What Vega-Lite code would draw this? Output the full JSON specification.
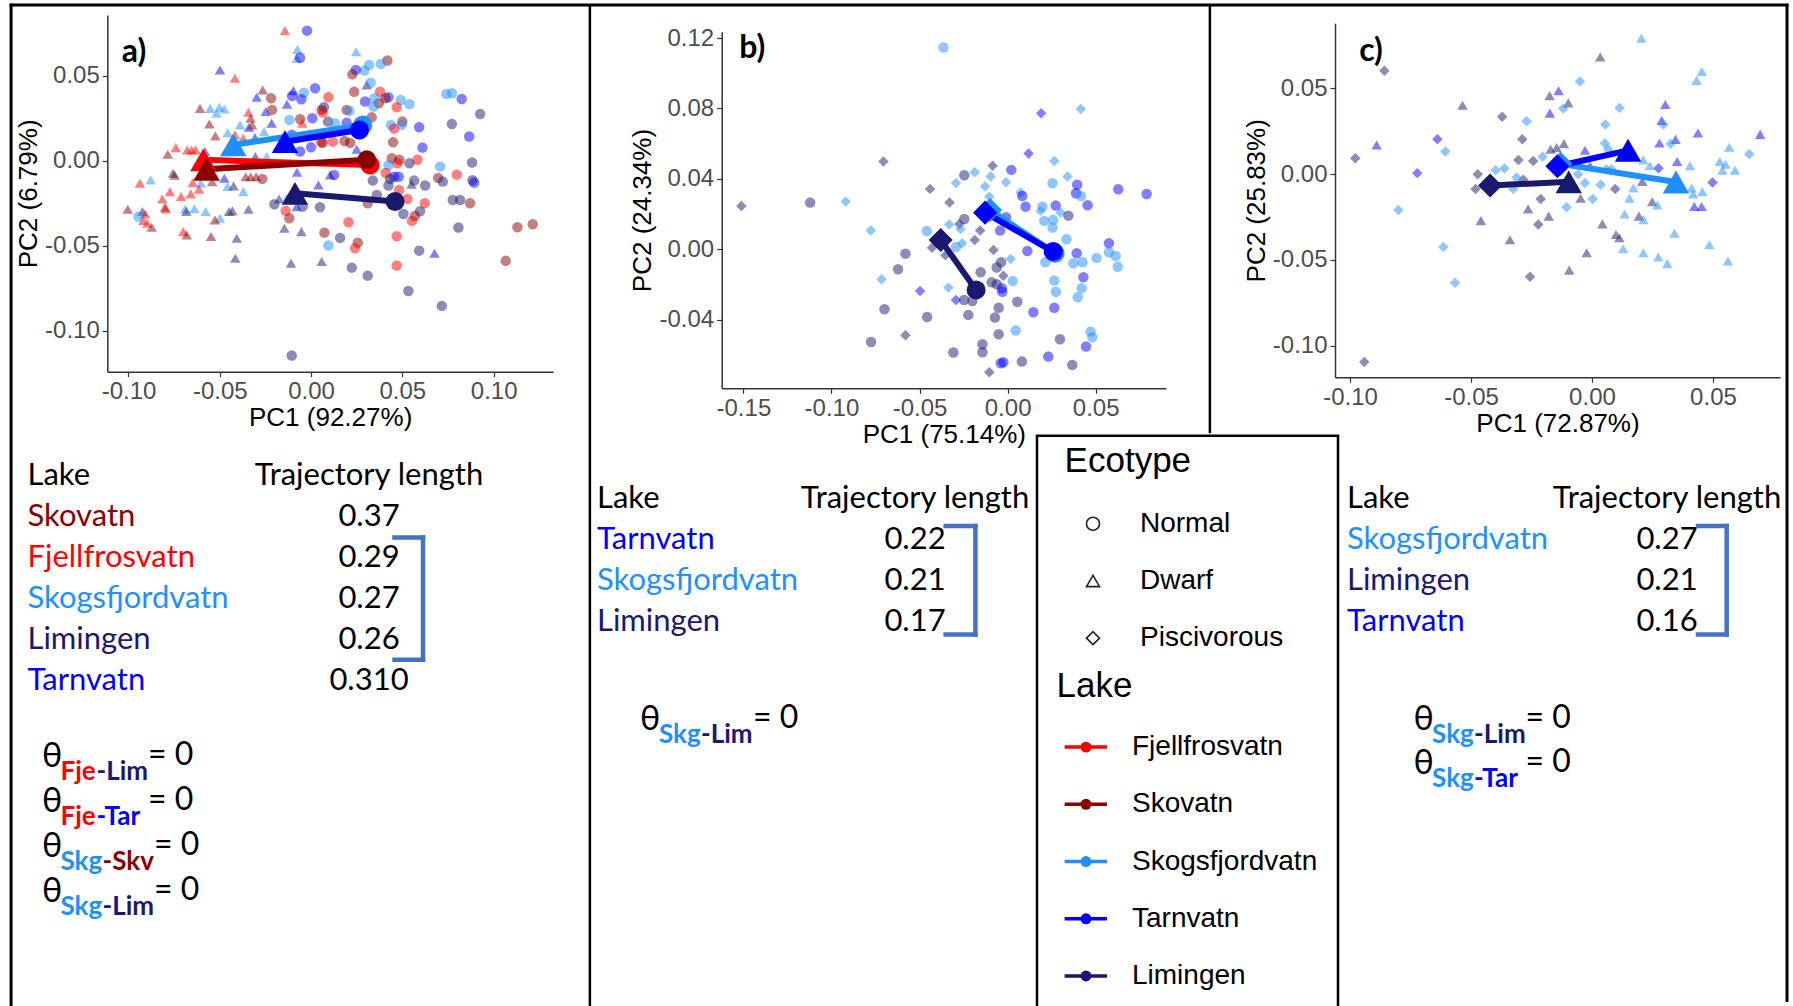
{
"$schema":"https://vega.github.io/schema/vega-lite/v6.json",
"width":1776,"height":1001,
"padding":{"left":11,"top":5,"right":6,"bottom":0},
"autosize":{"type":"none"},
"background":"white",
"config":{
 "view":{"stroke":null},
 "axis":{"grid":false,"domainColor":"#333333","domainWidth":1.5,"tickColor":"#333333","tickSize":5,"tickWidth":1.2,"labelFont":"Liberation Sans","labelFontSize":24,"labelColor":"#4D4D4D","labelPadding":3,"labelFlush":false,"labelOverlap":false,"titleFont":"Liberation Sans","titleFontSize":26,"titleFontWeight":"normal","titleColor":"#000000","titlePadding":3}
},
"datasets":{
"ptsA":[
{"lake":"Fje","eco":"D","pc1":-0.0143,"pc2":0.0765},{"lake":"Tar","eco":"N","pc1":-0.0022,"pc2":0.0765},{"lake":"Skg","eco":"D","pc1":-0.0075,"pc2":0.0655},{"lake":"Skg","eco":"D","pc1":-0.0079,"pc2":0.0602},{"lake":"Tar","eco":"N","pc1":-0.006,"pc2":0.0606},{"lake":"Tar","eco":"D","pc1":-0.0499,"pc2":0.0534},{"lake":"Fje","eco":"D","pc1":-0.0417,"pc2":0.0485},{"lake":"Skv","eco":"D","pc1":-0.0265,"pc2":0.0416},{"lake":"Tar","eco":"D","pc1":-0.0097,"pc2":0.0412},{"lake":"Skg","eco":"N","pc1":-0.0039,"pc2":0.04},{"lake":"Tar","eco":"N","pc1":0.0022,"pc2":0.0426},{"lake":"Tar","eco":"N","pc1":-0.0104,"pc2":0.0381},{"lake":"Tar","eco":"N","pc1":-0.0053,"pc2":0.0361},{"lake":"Tar","eco":"D","pc1":-0.0132,"pc2":0.0332},{"lake":"Skv","eco":"N","pc1":-0.0219,"pc2":0.0367},{"lake":"Tar","eco":"D","pc1":-0.0298,"pc2":0.0373},{"lake":"Skv","eco":"D","pc1":-0.0608,"pc2":0.0308},{"lake":"Skg","eco":"D","pc1":-0.0553,"pc2":0.0308},{"lake":"Skg","eco":"D","pc1":-0.0502,"pc2":0.0314},{"lake":"Skg","eco":"D","pc1":-0.0475,"pc2":0.0304},{"lake":"Skg","eco":"D","pc1":-0.0517,"pc2":0.0279},{"lake":"Fje","eco":"D","pc1":-0.0343,"pc2":0.0285},{"lake":"Skv","eco":"D","pc1":-0.0331,"pc2":0.025},{"lake":"Tar","eco":"D","pc1":-0.0248,"pc2":0.0289},{"lake":"Skv","eco":"N","pc1":-0.0214,"pc2":0.0299},{"lake":"Skv","eco":"D","pc1":-0.0557,"pc2":0.0216},{"lake":"Skg","eco":"D","pc1":-0.0389,"pc2":0.021},{"lake":"Tar","eco":"D","pc1":-0.034,"pc2":0.0197},{"lake":"Skv","eco":"D","pc1":-0.0323,"pc2":0.021},{"lake":"Tar","eco":"D","pc1":-0.0216,"pc2":0.022},{"lake":"Skg","eco":"N","pc1":-0.0119,"pc2":0.024},{"lake":"Skv","eco":"N","pc1":-0.006,"pc2":0.0244},{"lake":"Fje","eco":"D","pc1":-0.0048,"pc2":0.022},{"lake":"Tar","eco":"N","pc1":0.0007,"pc2":0.025},{"lake":"Skv","eco":"N","pc1":0.0058,"pc2":0.0299},{"lake":"Fje","eco":"N","pc1":0.0095,"pc2":0.0373},{"lake":"Skv","eco":"D","pc1":-0.0524,"pc2":0.0146},{"lake":"Skg","eco":"D","pc1":-0.0457,"pc2":0.0165},{"lake":"Fje","eco":"D","pc1":-0.0417,"pc2":0.0152},{"lake":"Fje","eco":"D","pc1":-0.0371,"pc2":0.0132},{"lake":"Tar","eco":"D","pc1":-0.0307,"pc2":0.0136},{"lake":"Skg","eco":"D","pc1":-0.0258,"pc2":0.0171},{"lake":"Tar","eco":"N","pc1":-0.0106,"pc2":0.0152},{"lake":"Skv","eco":"D","pc1":-0.0785,"pc2":0.0038},{"lake":"Fje","eco":"D","pc1":-0.0741,"pc2":0.0077},{"lake":"Fje","eco":"D","pc1":-0.0678,"pc2":0.0063},{"lake":"Fje","eco":"D","pc1":-0.0654,"pc2":0.0063},{"lake":"Fje","eco":"D","pc1":-0.0632,"pc2":0.0063},{"lake":"Tar","eco":"D","pc1":-0.0581,"pc2":0.0054},{"lake":"Lim","eco":"D","pc1":-0.0305,"pc2":0.0024},{"lake":"Skg","eco":"D","pc1":-0.0243,"pc2":0.0024},{"lake":"Tar","eco":"N","pc1":-0.006,"pc2":0.0054},{"lake":"Tar","eco":"N","pc1":0.0,"pc2":0.0079},{"lake":"Fje","eco":"N","pc1":0.0055,"pc2":0.0108},{"lake":"Lim","eco":"D","pc1":-0.0756,"pc2":-0.0074},{"lake":"Skv","eco":"D","pc1":-0.0747,"pc2":-0.0086},{"lake":"Fje","eco":"D","pc1":-0.0937,"pc2":-0.0133},{"lake":"Skg","eco":"D","pc1":-0.0878,"pc2":-0.0113},{"lake":"Fje","eco":"D","pc1":-0.0648,"pc2":-0.0129},{"lake":"Skg","eco":"D","pc1":-0.0603,"pc2":-0.0133},{"lake":"Skv","eco":"D","pc1":-0.0542,"pc2":-0.0123},{"lake":"Tar","eco":"D","pc1":-0.0475,"pc2":-0.0103},{"lake":"Skv","eco":"D","pc1":-0.0358,"pc2":-0.0094},{"lake":"Skv","eco":"D","pc1":-0.0331,"pc2":-0.0094},{"lake":"Skv","eco":"D","pc1":-0.0301,"pc2":-0.0094},{"lake":"Skv","eco":"N","pc1":-0.0267,"pc2":-0.0107},{"lake":"Skg","eco":"D","pc1":-0.0457,"pc2":-0.0152},{"lake":"Lim","eco":"D","pc1":-0.0424,"pc2":-0.0148},{"lake":"Skg","eco":"D","pc1":-0.0371,"pc2":-0.0182},{"lake":"Fje","eco":"D","pc1":-0.0773,"pc2":-0.0182},{"lake":"Fje","eco":"D","pc1":-0.0614,"pc2":-0.0168},{"lake":"Fje","eco":"D","pc1":-0.0659,"pc2":-0.0195},{"lake":"Fje","eco":"D","pc1":-0.0815,"pc2":-0.0225},{"lake":"Fje","eco":"D","pc1":-0.0712,"pc2":-0.0211},{"lake":"Skv","eco":"D","pc1":-0.08,"pc2":-0.0274},{"lake":"Fje","eco":"D","pc1":-0.0796,"pc2":-0.0284},{"lake":"Tar","eco":"D","pc1":-0.0077,"pc2":-0.0068},{"lake":"Lim","eco":"D","pc1":-0.0175,"pc2":-0.0225},{"lake":"Skg","eco":"D","pc1":-0.0133,"pc2":-0.0221},{"lake":"Tar","eco":"D","pc1":0.004,"pc2":-0.0143},{"lake":"Lim","eco":"N","pc1":-0.0201,"pc2":-0.0256},{"lake":"Fje","eco":"N","pc1":-0.0139,"pc2":-0.0295},{"lake":"Skv","eco":"N","pc1":-0.0119,"pc2":-0.0338},{"lake":"Tar","eco":"D","pc1":-0.0079,"pc2":-0.027},{"lake":"Lim","eco":"N","pc1":-0.0046,"pc2":-0.027},{"lake":"Lim","eco":"N","pc1":0.0049,"pc2":-0.0274},{"lake":"Skv","eco":"D","pc1":-0.1004,"pc2":-0.0286},{"lake":"Skg","eco":"D","pc1":-0.069,"pc2":-0.0284},{"lake":"Lim","eco":"D","pc1":-0.0683,"pc2":-0.0299},{"lake":"Skg","eco":"D","pc1":-0.0639,"pc2":-0.0282},{"lake":"Skg","eco":"D","pc1":-0.0577,"pc2":-0.0299},{"lake":"Skg","eco":"D","pc1":-0.0499,"pc2":-0.0338},{"lake":"Lim","eco":"D","pc1":-0.0449,"pc2":-0.0299},{"lake":"Lim","eco":"D","pc1":-0.0431,"pc2":-0.0295},{"lake":"Lim","eco":"D","pc1":-0.0343,"pc2":-0.0286},{"lake":"Lim","eco":"D","pc1":-0.0924,"pc2":-0.0299},{"lake":"Fje","eco":"D","pc1":-0.0909,"pc2":-0.0313},{"lake":"Fje","eco":"D","pc1":-0.0919,"pc2":-0.0352},{"lake":"Fje","eco":"D","pc1":-0.0897,"pc2":-0.0368},{"lake":"Skv","eco":"D","pc1":-0.0873,"pc2":-0.0391},{"lake":"Skg","eco":"N","pc1":-0.0946,"pc2":-0.0329},{"lake":"Skv","eco":"D","pc1":-0.0526,"pc2":-0.0348},{"lake":"Fje","eco":"D","pc1":-0.07,"pc2":-0.0417},{"lake":"Skv","eco":"D","pc1":-0.0681,"pc2":-0.0436},{"lake":"Skv","eco":"D","pc1":-0.0548,"pc2":-0.0446},{"lake":"Lim","eco":"D","pc1":-0.0407,"pc2":-0.0456},{"lake":"Lim","eco":"D","pc1":-0.0146,"pc2":-0.0397},{"lake":"Lim","eco":"D","pc1":-0.0053,"pc2":-0.0417},{"lake":"Skv","eco":"N","pc1":0.0073,"pc2":-0.0423},{"lake":"Skg","eco":"N","pc1":0.0095,"pc2":-0.0499},{"lake":"Lim","eco":"D","pc1":-0.0415,"pc2":-0.0574},{"lake":"Lim","eco":"D","pc1":-0.011,"pc2":-0.0603},{"lake":"Lim","eco":"D","pc1":0.0058,"pc2":-0.0593},{"lake":"Lim","eco":"N","pc1":-0.0106,"pc2":-0.1146},
{"lake":"Skg","eco":"D","pc1":0.0247,"pc2":0.0641},{"lake":"Skv","eco":"N","pc1":0.0418,"pc2":0.0589},{"lake":"Skg","eco":"N","pc1":0.0382,"pc2":0.0569},{"lake":"Skg","eco":"N","pc1":0.0318,"pc2":0.0563},{"lake":"Skg","eco":"N","pc1":0.0292,"pc2":0.053},{"lake":"Tar","eco":"N","pc1":0.0245,"pc2":0.0534},{"lake":"Skv","eco":"N","pc1":0.0226,"pc2":0.0508},{"lake":"Lim","eco":"D","pc1":0.0305,"pc2":0.0446},{"lake":"Skg","eco":"N","pc1":0.0327,"pc2":0.0459},{"lake":"Skv","eco":"N","pc1":0.0236,"pc2":0.0406},{"lake":"Fje","eco":"N","pc1":0.0378,"pc2":0.0406},{"lake":"Tar","eco":"N","pc1":0.0424,"pc2":0.0373},{"lake":"Skv","eco":"N","pc1":0.0407,"pc2":0.0367},{"lake":"Skv","eco":"N","pc1":0.0371,"pc2":0.0338},{"lake":"Skg","eco":"N","pc1":0.0342,"pc2":0.0318},{"lake":"Skg","eco":"N","pc1":0.0347,"pc2":0.0367},{"lake":"Tar","eco":"N","pc1":0.0296,"pc2":0.0348},{"lake":"Skg","eco":"N","pc1":0.0491,"pc2":0.0357},{"lake":"Skg","eco":"N","pc1":0.0539,"pc2":0.0332},{"lake":"Fje","eco":"N","pc1":0.0469,"pc2":0.0314},{"lake":"Lim","eco":"N","pc1":0.0071,"pc2":0.0314},{"lake":"Skv","eco":"N","pc1":0.0195,"pc2":0.0299},{"lake":"Skg","eco":"N","pc1":0.021,"pc2":0.0293},{"lake":"Fje","eco":"N","pc1":0.0064,"pc2":0.0283},{"lake":"Lim","eco":"N","pc1":0.0093,"pc2":0.023},{"lake":"Skg","eco":"N","pc1":0.0131,"pc2":0.022},{"lake":"Tar","eco":"N","pc1":0.0195,"pc2":0.0224},{"lake":"Skv","eco":"N","pc1":0.0332,"pc2":0.0255},{"lake":"Skg","eco":"N","pc1":0.0438,"pc2":0.021},{"lake":"Skv","eco":"N","pc1":0.05,"pc2":0.023},{"lake":"Fje","eco":"N","pc1":0.0455,"pc2":0.0189},{"lake":"Skg","eco":"N","pc1":0.0497,"pc2":0.021},{"lake":"Tar","eco":"N","pc1":0.0592,"pc2":0.0197},{"lake":"Skg","eco":"N","pc1":0.0741,"pc2":0.0393},{"lake":"Skg","eco":"N","pc1":0.0772,"pc2":0.0397},{"lake":"Tar","eco":"N","pc1":0.0825,"pc2":0.0363},{"lake":"Lim","eco":"N","pc1":0.0926,"pc2":0.0275},{"lake":"Lim","eco":"N","pc1":0.0771,"pc2":0.0216},{"lake":"Tar","eco":"N","pc1":0.0866,"pc2":0.0142},{"lake":"Tar","eco":"N","pc1":0.061,"pc2":0.0077},{"lake":"Fje","eco":"N","pc1":0.0583,"pc2":0.0006},{"lake":"Lim","eco":"N","pc1":0.0539,"pc2":-0.0015},{"lake":"Lim","eco":"N","pc1":0.0882,"pc2":-0.0011},{"lake":"Skg","eco":"N","pc1":0.0707,"pc2":-0.0035},{"lake":"Fje","eco":"N","pc1":0.0798,"pc2":-0.0082},{"lake":"Skv","eco":"N","pc1":0.0696,"pc2":-0.0101},{"lake":"Lim","eco":"N","pc1":0.0721,"pc2":-0.0123},{"lake":"Lim","eco":"N","pc1":0.0884,"pc2":-0.0115},{"lake":"Tar","eco":"N","pc1":0.0893,"pc2":-0.0129},{"lake":"Tar","eco":"D","pc1":0.025,"pc2":0.0067},{"lake":"Skv","eco":"N","pc1":0.0064,"pc2":0.0106},{"lake":"Fje","eco":"N","pc1":0.0119,"pc2":0.0112},{"lake":"Skv","eco":"N","pc1":0.0183,"pc2":0.0116},{"lake":"Skv","eco":"N","pc1":0.0214,"pc2":0.0106},{"lake":"Skv","eco":"N","pc1":0.0449,"pc2":0.0108},{"lake":"Skv","eco":"N","pc1":0.0442,"pc2":0.0014},{"lake":"Skv","eco":"N","pc1":0.0484,"pc2":0.0005},{"lake":"Fje","eco":"N","pc1":0.0473,"pc2":-0.0015},{"lake":"Skg","eco":"N","pc1":0.0424,"pc2":-0.0027},{"lake":"Fje","eco":"N","pc1":0.0409,"pc2":-0.0072},{"lake":"Tar","eco":"N","pc1":0.0455,"pc2":-0.0094},{"lake":"Tar","eco":"N","pc1":0.048,"pc2":-0.0094},{"lake":"Lim","eco":"N","pc1":0.0433,"pc2":-0.0107},{"lake":"Lim","eco":"N","pc1":0.0338,"pc2":-0.0117},{"lake":"Lim","eco":"D","pc1":0.0104,"pc2":-0.0084},{"lake":"Tar","eco":"N","pc1":0.0126,"pc2":-0.0084},{"lake":"Lim","eco":"N","pc1":0.0564,"pc2":-0.0117},{"lake":"Lim","eco":"D","pc1":0.055,"pc2":-0.0138},{"lake":"Lim","eco":"N","pc1":0.0625,"pc2":-0.0146},{"lake":"Lim","eco":"N","pc1":0.0424,"pc2":-0.0146},{"lake":"Fje","eco":"N","pc1":0.0528,"pc2":-0.0225},{"lake":"Fje","eco":"N","pc1":0.0623,"pc2":-0.025},{"lake":"Lim","eco":"N","pc1":0.0597,"pc2":-0.0297},{"lake":"Skv","eco":"N","pc1":0.0568,"pc2":-0.0325},{"lake":"Fje","eco":"N","pc1":0.0553,"pc2":-0.0354},{"lake":"Lim","eco":"N","pc1":0.0506,"pc2":-0.0313},{"lake":"Fje","eco":"N","pc1":0.0482,"pc2":-0.0172},{"lake":"Lim","eco":"N","pc1":0.036,"pc2":-0.0201},{"lake":"Skv","eco":"N","pc1":0.031,"pc2":-0.025},{"lake":"Lim","eco":"N","pc1":0.0776,"pc2":-0.0231},{"lake":"Lim","eco":"N","pc1":0.0816,"pc2":-0.0231},{"lake":"Skv","eco":"N","pc1":0.0871,"pc2":-0.025},{"lake":"Lim","eco":"N","pc1":0.0807,"pc2":-0.0393},{"lake":"Skv","eco":"N","pc1":0.113,"pc2":-0.0391},{"lake":"Skv","eco":"N","pc1":0.1214,"pc2":-0.0374},{"lake":"Skv","eco":"N","pc1":0.1066,"pc2":-0.0589},{"lake":"Fje","eco":"N","pc1":0.0205,"pc2":-0.0362},{"lake":"Lim","eco":"N","pc1":0.0159,"pc2":-0.0454},{"lake":"Skv","eco":"N","pc1":0.0256,"pc2":-0.0482},{"lake":"Fje","eco":"N","pc1":0.0241,"pc2":-0.0515},{"lake":"Fje","eco":"N","pc1":0.0469,"pc2":-0.0444},{"lake":"Lim","eco":"N","pc1":0.0592,"pc2":-0.0529},{"lake":"Tar","eco":"D","pc1":0.0676,"pc2":-0.0544},{"lake":"Lim","eco":"N","pc1":0.0223,"pc2":-0.0629},{"lake":"Lim","eco":"N","pc1":0.031,"pc2":-0.0676},{"lake":"Fje","eco":"N","pc1":0.0469,"pc2":-0.0617},{"lake":"Lim","eco":"N","pc1":0.0533,"pc2":-0.0766},{"lake":"Lim","eco":"N","pc1":0.0716,"pc2":-0.0854}
],
"centA":[
{"lake":"Fje","eco":"D","pc1":-0.059,"pc2":0.0005},{"lake":"Fje","eco":"N","pc1":0.0323,"pc2":-0.0025},{"lake":"Skv","eco":"D","pc1":-0.0572,"pc2":-0.005},{"lake":"Skv","eco":"N","pc1":0.0305,"pc2":0.0005},{"lake":"Skg","eco":"D","pc1":-0.0426,"pc2":0.0093},{"lake":"Skg","eco":"N","pc1":0.0283,"pc2":0.021},{"lake":"Tar","eco":"D","pc1":-0.0143,"pc2":0.0112},{"lake":"Tar","eco":"N","pc1":0.0265,"pc2":0.0181},{"lake":"Lim","eco":"D","pc1":-0.0088,"pc2":-0.0192},{"lake":"Lim","eco":"N","pc1":0.046,"pc2":-0.024}
],
"ptsB":[
{"lake":"Skg","eco":"N","pc1":-0.0364,"pc2":0.1146},{"lake":"Lim","eco":"P","pc1":-0.0705,"pc2":0.0498},{"lake":"Lim","eco":"P","pc1":-0.1511,"pc2":0.0246},{"lake":"Lim","eco":"N","pc1":-0.1121,"pc2":0.0265},{"lake":"Skg","eco":"P","pc1":-0.0919,"pc2":0.0271},{"lake":"Lim","eco":"P","pc1":-0.044,"pc2":0.0343},{"lake":"Lim","eco":"P","pc1":-0.033,"pc2":0.0265},{"lake":"Skg","eco":"P","pc1":-0.0777,"pc2":0.0106},{"lake":"Skg","eco":"N","pc1":-0.0459,"pc2":0.0104},{"lake":"Lim","eco":"P","pc1":-0.0429,"pc2":0.0009},{"lake":"Lim","eco":"P","pc1":-0.0353,"pc2":-0.0034},{"lake":"Lim","eco":"N","pc1":-0.058,"pc2":-0.0025},{"lake":"Lim","eco":"N","pc1":-0.0622,"pc2":-0.0114},{"lake":"Skg","eco":"P","pc1":-0.0716,"pc2":-0.0171},{"lake":"Tar","eco":"P","pc1":-0.0497,"pc2":-0.0237},{"lake":"Skg","eco":"P","pc1":-0.0336,"pc2":-0.0218},{"lake":"Lim","eco":"N","pc1":-0.0699,"pc2":-0.0341},{"lake":"Lim","eco":"N","pc1":-0.0457,"pc2":-0.0385},{"lake":"Lim","eco":"P","pc1":-0.058,"pc2":-0.0489},{"lake":"Lim","eco":"N","pc1":-0.0775,"pc2":-0.0527},{"lake":"Tar","eco":"P","pc1":0.019,"pc2":0.0773},{"lake":"Skg","eco":"P","pc1":0.0415,"pc2":0.0797},{"lake":"Tar","eco":"P","pc1":0.0119,"pc2":0.0544},{"lake":"Skg","eco":"P","pc1":0.0265,"pc2":0.0502},{"lake":"Lim","eco":"P","pc1":-0.0085,"pc2":0.0475},{"lake":"Tar","eco":"N","pc1":0.0021,"pc2":0.0451},{"lake":"Lim","eco":"N","pc1":-0.0246,"pc2":0.042},{"lake":"Skg","eco":"P","pc1":-0.0187,"pc2":0.0437},{"lake":"Skg","eco":"P","pc1":-0.0293,"pc2":0.0377},{"lake":"Skg","eco":"P","pc1":-0.0096,"pc2":0.0413},{"lake":"Skg","eco":"P","pc1":-0.0009,"pc2":0.0381},{"lake":"Skg","eco":"P","pc1":-0.0128,"pc2":0.0356},{"lake":"Skg","eco":"P","pc1":0.0074,"pc2":0.0322},{"lake":"Tar","eco":"N","pc1":0.0083,"pc2":0.0303},{"lake":"Skg","eco":"N","pc1":0.0255,"pc2":0.0375},{"lake":"Skg","eco":"P","pc1":0.034,"pc2":0.0413},{"lake":"Tar","eco":"N","pc1":0.0395,"pc2":0.0367},{"lake":"Tar","eco":"N","pc1":0.0388,"pc2":0.0318},{"lake":"Skg","eco":"N","pc1":0.0416,"pc2":0.0303},{"lake":"Tar","eco":"N","pc1":0.0454,"pc2":0.025},{"lake":"Tar","eco":"N","pc1":0.0628,"pc2":0.0341},{"lake":"Tar","eco":"N","pc1":0.0789,"pc2":0.0314},{"lake":"Skg","eco":"P","pc1":-0.0104,"pc2":0.0299},{"lake":"Tar","eco":"N","pc1":0.0102,"pc2":0.0242},{"lake":"Skg","eco":"N","pc1":0.0197,"pc2":0.0242},{"lake":"Skg","eco":"P","pc1":0.0187,"pc2":0.0218},{"lake":"Tar","eco":"N","pc1":0.0273,"pc2":0.0248},{"lake":"Skg","eco":"N","pc1":0.0208,"pc2":0.0161},{"lake":"Skg","eco":"N","pc1":0.0259,"pc2":0.0167},{"lake":"Skg","eco":"N","pc1":0.0255,"pc2":0.0123},{"lake":"Skg","eco":"P","pc1":0.0301,"pc2":0.0208},{"lake":"Lim","eco":"N","pc1":0.0345,"pc2":0.0191},{"lake":"Tar","eco":"N","pc1":-0.0009,"pc2":0.0182},{"lake":"Tar","eco":"N","pc1":-0.0043,"pc2":0.0106},{"lake":"Lim","eco":"N","pc1":-0.0246,"pc2":0.0172},{"lake":"Lim","eco":"P","pc1":-0.0274,"pc2":0.0144},{"lake":"Skg","eco":"P","pc1":-0.0332,"pc2":0.014},{"lake":"Skg","eco":"P","pc1":-0.0267,"pc2":0.0115},{"lake":"Lim","eco":"P","pc1":-0.0156,"pc2":0.0106},{"lake":"Lim","eco":"P","pc1":-0.0187,"pc2":0.0053},{"lake":"Skg","eco":"P","pc1":-0.0259,"pc2":0.0034},{"lake":"Skg","eco":"N","pc1":-0.0293,"pc2":0.0013},{"lake":"Lim","eco":"P","pc1":-0.008,"pc2":-0.0004},{"lake":"Skg","eco":"P","pc1":0.0017,"pc2":-0.0055},{"lake":"Lim","eco":"N","pc1":-0.0037,"pc2":-0.0074},{"lake":"Lim","eco":"N","pc1":-0.0062,"pc2":-0.0104},{"lake":"Lim","eco":"P","pc1":-0.0024,"pc2":-0.015},{"lake":"Lim","eco":"N","pc1":-0.0153,"pc2":-0.0131},{"lake":"Tar","eco":"N","pc1":0.0112,"pc2":-0.001},{"lake":"Skg","eco":"N","pc1":0.0334,"pc2":0.0057},{"lake":"Tar","eco":"N","pc1":0.0392,"pc2":-0.0023},{"lake":"Skg","eco":"N","pc1":0.0373,"pc2":-0.008},{"lake":"Skg","eco":"N","pc1":0.0425,"pc2":-0.0074},{"lake":"Skg","eco":"N","pc1":0.0505,"pc2":-0.0049},{"lake":"Tar","eco":"N","pc1":0.0575,"pc2":0.0034},{"lake":"Skg","eco":"N","pc1":0.0575,"pc2":-0.0017},{"lake":"Skg","eco":"N","pc1":0.0613,"pc2":-0.0038},{"lake":"Skg","eco":"N","pc1":0.0625,"pc2":-0.0099},{"lake":"Skg","eco":"N","pc1":0.0214,"pc2":-0.0074},{"lake":"Lim","eco":"N","pc1":-0.0091,"pc2":-0.0188},{"lake":"Lim","eco":"N","pc1":-0.0062,"pc2":-0.0199},{"lake":"Tar","eco":"N","pc1":-0.0033,"pc2":-0.0222},{"lake":"Tar","eco":"N","pc1":-0.003,"pc2":-0.0241},{"lake":"Skg","eco":"N","pc1":0.0029,"pc2":-0.018},{"lake":"Skg","eco":"N","pc1":0.0265,"pc2":-0.0178},{"lake":"Skg","eco":"N","pc1":0.0274,"pc2":-0.0241},{"lake":"Tar","eco":"N","pc1":0.043,"pc2":-0.0159},{"lake":"Skg","eco":"N","pc1":0.042,"pc2":-0.0222},{"lake":"Skg","eco":"N","pc1":0.0398,"pc2":-0.0273},{"lake":"Tar","eco":"P","pc1":-0.0293,"pc2":-0.0288},{"lake":"Lim","eco":"N","pc1":-0.0247,"pc2":-0.0288},{"lake":"Lim","eco":"N","pc1":-0.02,"pc2":-0.0294},{"lake":"Lim","eco":"N","pc1":0.0055,"pc2":-0.0298},{"lake":"Lim","eco":"N","pc1":-0.0051,"pc2":-0.0332},{"lake":"Lim","eco":"N","pc1":-0.0072,"pc2":-0.0388},{"lake":"Lim","eco":"N","pc1":-0.0223,"pc2":-0.0373},{"lake":"Tar","eco":"N","pc1":0.0146,"pc2":-0.0358},{"lake":"Tar","eco":"N","pc1":0.0265,"pc2":-0.0332},{"lake":"Skg","eco":"N","pc1":0.0046,"pc2":-0.0462},{"lake":"Lim","eco":"N","pc1":-0.0051,"pc2":-0.0483},{"lake":"Lim","eco":"N","pc1":0.0297,"pc2":-0.0511},{"lake":"Skg","eco":"N","pc1":0.0471,"pc2":-0.0468},{"lake":"Skg","eco":"N","pc1":0.0481,"pc2":-0.05},{"lake":"Tar","eco":"N","pc1":0.0445,"pc2":-0.0553},{"lake":"Lim","eco":"N","pc1":-0.0308,"pc2":-0.0587},{"lake":"Lim","eco":"N","pc1":-0.0143,"pc2":-0.054},{"lake":"Lim","eco":"N","pc1":-0.0143,"pc2":-0.0585},{"lake":"Lim","eco":"N","pc1":0.0081,"pc2":-0.0638},{"lake":"Tar","eco":"N","pc1":-0.0039,"pc2":-0.0648},{"lake":"Tar","eco":"N","pc1":-0.0024,"pc2":-0.0642},{"lake":"Tar","eco":"N","pc1":0.0231,"pc2":-0.061},{"lake":"Lim","eco":"N","pc1":0.0367,"pc2":-0.0657},{"lake":"Lim","eco":"P","pc1":-0.0104,"pc2":-0.0699}
],
"centB":[
{"lake":"Lim","eco":"P","pc1":-0.038,"pc2":0.0053},{"lake":"Lim","eco":"N","pc1":-0.0179,"pc2":-0.0231},{"lake":"Skg","eco":"P","pc1":-0.01,"pc2":0.0223},{"lake":"Skg","eco":"N","pc1":0.0269,"pc2":-0.0023},{"lake":"Tar","eco":"P","pc1":-0.0128,"pc2":0.0208},{"lake":"Tar","eco":"N","pc1":0.0259,"pc2":-0.0013}
],
"ptsC":[
{"lake":"Lim","eco":"P","pc1":-0.0858,"pc2":0.0603},{"lake":"Lim","eco":"P","pc1":-0.0978,"pc2":0.0093},{"lake":"Tar","eco":"D","pc1":-0.089,"pc2":0.017},{"lake":"Tar","eco":"P","pc1":-0.0722,"pc2":0.0006},{"lake":"Skg","eco":"P","pc1":-0.08,"pc2":-0.0209},{"lake":"Tar","eco":"P","pc1":-0.0639,"pc2":0.0203},{"lake":"Skg","eco":"P","pc1":-0.0606,"pc2":0.0132},{"lake":"Lim","eco":"D","pc1":-0.0535,"pc2":0.0402},{"lake":"Skg","eco":"P","pc1":-0.0614,"pc2":-0.0425},{"lake":"Skg","eco":"P","pc1":-0.0566,"pc2":-0.0634},{"lake":"Lim","eco":"P","pc1":-0.0941,"pc2":-0.1096},{"lake":"Lim","eco":"P","pc1":-0.0472,"pc2":0.0},{"lake":"Lim","eco":"P","pc1":-0.0481,"pc2":-0.0087},{"lake":"Lim","eco":"D","pc1":-0.0459,"pc2":-0.0271},{"lake":"Skg","eco":"P","pc1":-0.0398,"pc2":0.0023},{"lake":"Skg","eco":"P","pc1":-0.0362,"pc2":0.0033},{"lake":"Lim","eco":"P","pc1":-0.0371,"pc2":0.0335},{"lake":"Lim","eco":"D","pc1":-0.0339,"pc2":-0.0383},{"lake":"Skg","eco":"P","pc1":-0.027,"pc2":0.0309},{"lake":"Lim","eco":"P","pc1":-0.0288,"pc2":0.0203},{"lake":"Lim","eco":"P","pc1":-0.0304,"pc2":0.0083},{"lake":"Lim","eco":"P","pc1":-0.0243,"pc2":0.0077},{"lake":"Skg","eco":"P","pc1":-0.0204,"pc2":0.0101},{"lake":"Lim","eco":"P","pc1":-0.0284,"pc2":-0.0033},{"lake":"Skg","eco":"P","pc1":-0.0312,"pc2":-0.0019},{"lake":"Skg","eco":"P","pc1":-0.0325,"pc2":-0.0087},{"lake":"Lim","eco":"D","pc1":-0.0264,"pc2":-0.0203},{"lake":"Lim","eco":"P","pc1":-0.0212,"pc2":-0.0145},{"lake":"Lim","eco":"P","pc1":-0.0222,"pc2":-0.0294},{"lake":"Lim","eco":"D","pc1":-0.0179,"pc2":-0.0245},{"lake":"Lim","eco":"P","pc1":-0.0256,"pc2":-0.0599},{"lake":"Lim","eco":"D","pc1":-0.0175,"pc2":0.0458},{"lake":"Tar","eco":"D","pc1":-0.0138,"pc2":0.0487},{"lake":"Tar","eco":"D","pc1":-0.0174,"pc2":0.0356},{"lake":"Lim","eco":"D","pc1":-0.0171,"pc2":0.0145},{"lake":"Lim","eco":"D","pc1":-0.0146,"pc2":0.0155},
{"lake":"Skg","eco":"D","pc1":0.0204,"pc2":0.0793},{"lake":"Lim","eco":"D","pc1":0.0034,"pc2":0.0683},{"lake":"Skg","eco":"D","pc1":0.0454,"pc2":0.0599},{"lake":"Skg","eco":"D","pc1":0.0432,"pc2":0.0547},{"lake":"Skg","eco":"P","pc1":-0.005,"pc2":0.0541},{"lake":"Lim","eco":"D","pc1":-0.0098,"pc2":0.0416},{"lake":"Skg","eco":"P","pc1":-0.0119,"pc2":0.0383},{"lake":"Skg","eco":"P","pc1":0.0114,"pc2":0.0387},{"lake":"Tar","eco":"D","pc1":0.0303,"pc2":0.0406},{"lake":"Tar","eco":"D","pc1":0.0288,"pc2":0.0313},{"lake":"Skg","eco":"P","pc1":0.0295,"pc2":0.029},{"lake":"Skg","eco":"P","pc1":0.0055,"pc2":0.029},{"lake":"Tar","eco":"D","pc1":0.0438,"pc2":0.024},{"lake":"Tar","eco":"D","pc1":0.0695,"pc2":0.0232},{"lake":"Lim","eco":"D","pc1":-0.0116,"pc2":0.0178},{"lake":"Tar","eco":"D","pc1":-0.0029,"pc2":0.0139},{"lake":"Skg","eco":"P","pc1":0.0053,"pc2":0.018},{"lake":"Skg","eco":"P","pc1":0.0067,"pc2":0.0145},{"lake":"Tar","eco":"D","pc1":0.0279,"pc2":0.0182},{"lake":"Tar","eco":"D","pc1":0.0345,"pc2":0.0203},{"lake":"Skg","eco":"P","pc1":0.0325,"pc2":0.0178},{"lake":"Skg","eco":"D","pc1":0.0567,"pc2":0.0157},{"lake":"Skg","eco":"P","pc1":0.065,"pc2":0.0116},{"lake":"Skg","eco":"D","pc1":0.0212,"pc2":0.0083},{"lake":"Skg","eco":"D","pc1":0.0239,"pc2":0.0049},{"lake":"Tar","eco":"P","pc1":0.0275,"pc2":0.0035},{"lake":"Tar","eco":"D","pc1":0.0352,"pc2":0.0074},{"lake":"Skg","eco":"D","pc1":0.0405,"pc2":0.0049},{"lake":"Skg","eco":"D","pc1":0.0528,"pc2":0.0074},{"lake":"Skg","eco":"D","pc1":0.0552,"pc2":0.0058},{"lake":"Skg","eco":"D","pc1":0.0539,"pc2":0.0023},{"lake":"Skg","eco":"D","pc1":0.0591,"pc2":0.0023},{"lake":"Skg","eco":"P","pc1":0.006,"pc2":0.0029},{"lake":"Skg","eco":"P","pc1":0.0081,"pc2":0.0029},{"lake":"Lim","eco":"D","pc1":-0.0008,"pc2":0.0049},{"lake":"Skg","eco":"P","pc1":-0.0057,"pc2":0.0},{"lake":"Skg","eco":"P","pc1":-0.0029,"pc2":-0.0052},{"lake":"Skg","eco":"P","pc1":0.0036,"pc2":-0.0062},{"lake":"Lim","eco":"P","pc1":0.0096,"pc2":-0.0087},{"lake":"Skg","eco":"P","pc1":0.0003,"pc2":-0.0145},{"lake":"Skg","eco":"P","pc1":-0.0105,"pc2":-0.0193},{"lake":"Lim","eco":"D","pc1":0.0208,"pc2":-0.0042},{"lake":"Skg","eco":"D","pc1":0.0171,"pc2":-0.0081},{"lake":"Skg","eco":"D","pc1":0.0155,"pc2":-0.0141},{"lake":"Skg","eco":"D","pc1":0.0412,"pc2":-0.0081},{"lake":"Skg","eco":"D","pc1":0.0456,"pc2":-0.0102},{"lake":"Skg","eco":"D","pc1":0.0418,"pc2":-0.0116},{"lake":"Tar","eco":"P","pc1":0.0498,"pc2":-0.0048},{"lake":"Lim","eco":"D","pc1":-0.0047,"pc2":-0.0141},{"lake":"Lim","eco":"D","pc1":0.0249,"pc2":-0.016},{"lake":"Skg","eco":"D","pc1":0.027,"pc2":-0.018},{"lake":"Tar","eco":"D","pc1":0.0423,"pc2":-0.0189},{"lake":"Tar","eco":"D","pc1":0.0453,"pc2":-0.0189},{"lake":"Skg","eco":"D","pc1":0.0135,"pc2":-0.0232},{"lake":"Lim","eco":"D","pc1":0.0194,"pc2":-0.0245},{"lake":"Skg","eco":"D","pc1":0.0213,"pc2":-0.0265},{"lake":"Lim","eco":"D","pc1":0.0043,"pc2":-0.029},{"lake":"Lim","eco":"D","pc1":0.0099,"pc2":-0.0352},{"lake":"Lim","eco":"D","pc1":0.0113,"pc2":-0.0371},{"lake":"Skg","eco":"D","pc1":0.0341,"pc2":-0.0344},{"lake":"Skg","eco":"D","pc1":0.0485,"pc2":-0.0412},{"lake":"Lim","eco":"D","pc1":-0.0022,"pc2":-0.0458},{"lake":"Skg","eco":"D","pc1":0.0129,"pc2":-0.0435},{"lake":"Skg","eco":"D","pc1":0.0212,"pc2":-0.0458},{"lake":"Skg","eco":"D","pc1":0.0274,"pc2":-0.0483},{"lake":"Skg","eco":"D","pc1":0.0311,"pc2":-0.0522},{"lake":"Skg","eco":"D","pc1":0.0562,"pc2":-0.0506},{"lake":"Lim","eco":"D","pc1":-0.0094,"pc2":-0.056}
],
"centC":[
{"lake":"Lim","eco":"P","pc1":-0.0421,"pc2":-0.0066},{"lake":"Lim","eco":"D","pc1":-0.0096,"pc2":-0.0045},{"lake":"Skg","eco":"P","pc1":-0.013,"pc2":0.006},{"lake":"Skg","eco":"D","pc1":0.0347,"pc2":-0.0046},{"lake":"Tar","eco":"P","pc1":-0.0143,"pc2":0.0046},{"lake":"Tar","eco":"D","pc1":0.0149,"pc2":0.0139}
],
"panels":[{"panel":"a","label":"a)"},{"panel":"b","label":"b)"},{"panel":"c","label":"c)"}],
"tables":[
{"panel":"a","lake":"hdr","name":"Lake","length":"Trajectory length"},
{"panel":"a","lake":"Skv","name":"Skovatn","length":"0.37"},
{"panel":"a","lake":"Fje","name":"Fjellfrosvatn","length":"0.29"},
{"panel":"a","lake":"Skg","name":"Skogsfjordvatn","length":"0.27"},
{"panel":"a","lake":"Lim","name":"Limingen","length":"0.26"},
{"panel":"a","lake":"Tar","name":"Tarnvatn","length":"0.310"},
{"panel":"b","lake":"hdr","name":"Lake","length":"Trajectory length"},
{"panel":"b","lake":"Tar","name":"Tarnvatn","length":"0.22"},
{"panel":"b","lake":"Skg","name":"Skogsfjordvatn","length":"0.21"},
{"panel":"b","lake":"Lim","name":"Limingen","length":"0.17"},
{"panel":"c","lake":"hdr","name":"Lake","length":"Trajectory length"},
{"panel":"c","lake":"Skg","name":"Skogsfjordvatn","length":"0.27"},
{"panel":"c","lake":"Lim","name":"Limingen","length":"0.21"},
{"panel":"c","lake":"Tar","name":"Tarnvatn","length":"0.16"}
],
"brackets":[{"panel":"a","top":"Fje","bottom":"Lim"},{"panel":"b","top":"Tar","bottom":"Lim"},{"panel":"c","top":"Skg","bottom":"Tar"}],
"theta":[
{"panel":"a","pair":"Fje-Lim","first":"Fje","rest":"-Lim","second":"Lim"},
{"panel":"a","pair":"Fje-Tar","first":"Fje","rest":"-Tar","second":"Tar"},
{"panel":"a","pair":"Skg-Skv","first":"Skg","rest":"-Skv","second":"Skv"},
{"panel":"a","pair":"Skg-Lim","first":"Skg","rest":"-Lim","second":"Lim"},
{"panel":"b","pair":"Skg-Lim","first":"Skg","rest":"-Lim","second":"Lim"},
{"panel":"c","pair":"Skg-Lim","first":"Skg","rest":"-Lim","second":"Lim"},
{"panel":"c","pair":"Skg-Tar","first":"Skg","rest":"-Tar","second":"Tar"}
],
"legend":[
{"item":"Ecotype","kind":"title"},
{"item":"Normal","kind":"eco","eco":"N"},
{"item":"Dwarf","kind":"eco","eco":"D"},
{"item":"Piscivorous","kind":"eco","eco":"P"},
{"item":"Lake","kind":"title"},
{"item":"Fjellfrosvatn","kind":"lake","lake":"Fje"},
{"item":"Skovatn","kind":"lake","lake":"Skv"},
{"item":"Skogsfjordvatn","kind":"lake","lake":"Skg"},
{"item":"Tarnvatn","kind":"lake","lake":"Tar"},
{"item":"Limingen","kind":"lake","lake":"Lim"}
]
},
"resolve":{"scale":{"x":"independent","y":"independent"}},
"layer":[
{"layer":[
 {"data":{"name":"ptsA"},"mark":{"type":"point","filled":true,"opacity":0.5,"size":110},
  "encoding":{
   "x":{"field":"pc1","type":"quantitative","scale":{"domain":[-0.1116,0.1325],"range":[96.3,542],"nice":false,"zero":false},"axis":{"orient":"bottom","offset":-634.3,"values":[-0.1,-0.05,0,0.05,0.1],"format":".2f","labelExpr":"replace(datum.label,'\u2212','-')","title":"PC1 (92.27%)","titlePadding":1}},
   "y":{"field":"pc2","type":"quantitative","scale":{"domain":[-0.1241,0.0857],"range":[366.7,10],"nice":false,"zero":false},"axis":{"orient":"left","offset":-96.3,"values":[0.05,0,-0.05,-0.1],"format":".2f","labelExpr":"replace(datum.label,'\u2212','-')","title":"PC2 (6.79%)"}},
   "color":{"field":"lake","type":"nominal","scale":{"domain":["Fje","Skv","Skg","Tar","Lim","hdr"],"range":["#FF0000","#8B0000","#1E90FF","#0000FF","#191970","#000000"]},"legend":null},
   "shape":{"field":"eco","type":"nominal","scale":{"domain":["N","D","P"],"range":["circle","triangle-up","diamond"]},"legend":null}}},
 {"data":{"name":"centA"},"mark":{"type":"line","strokeWidth":6},
  "encoding":{"x":{"field":"pc1","type":"quantitative"},"y":{"field":"pc2","type":"quantitative"},"color":{"field":"lake","type":"nominal","scale":{"domain":["Fje","Skv","Skg","Tar","Lim","hdr"],"range":["#FF0000","#8B0000","#1E90FF","#0000FF","#191970","#000000"]},"legend":null}}},
 {"data":{"name":"centA"},"transform":[{"filter":"datum.eco==='N'"}],"mark":{"type":"point","filled":true,"opacity":1,"size":360},
  "encoding":{"x":{"field":"pc1","type":"quantitative"},"y":{"field":"pc2","type":"quantitative"},"color":{"field":"lake","type":"nominal","scale":{"domain":["Fje","Skv","Skg","Tar","Lim","hdr"],"range":["#FF0000","#8B0000","#1E90FF","#0000FF","#191970","#000000"]},"legend":null},"shape":{"field":"eco","type":"nominal","scale":{"domain":["N","D","P"],"range":["circle","triangle-up","diamond"]},"legend":null}}},
 {"data":{"name":"centA"},"transform":[{"filter":"datum.eco==='D'"}],"mark":{"type":"point","filled":true,"opacity":1,"size":700},
  "encoding":{"x":{"field":"pc1","type":"quantitative"},"y":{"field":"pc2","type":"quantitative"},"color":{"field":"lake","type":"nominal","scale":{"domain":["Fje","Skv","Skg","Tar","Lim","hdr"],"range":["#FF0000","#8B0000","#1E90FF","#0000FF","#191970","#000000"]},"legend":null},"shape":{"field":"eco","type":"nominal","scale":{"domain":["N","D","P"],"range":["circle","triangle-up","diamond"]},"legend":null}}},
 {"data":{"name":"panels"},"transform":[{"filter":"datum.panel==='a'"}],"mark":{"type":"text","align":"left","baseline":"middle","font":"Lato","fontWeight":"bold","fontSize":32},
  "encoding":{"x":{"datum":-0.1037},"y":{"datum":0.0641},"text":{"field":"label"}}},
 {"data":{"name":"panels"},"transform":[{"filter":"datum.panel==='a'"}],"mark":{"type":"rule","color":"black","strokeWidth":2.5},
  "encoding":{"x":{"datum":0.1527},"y":{"datum":0.0916},"y2":{"datum":-0.4972}}},
 {"data":{"name":"panels"},"transform":[{"filter":"datum.panel==='a'"}],"mark":{"type":"rule","color":"black","strokeWidth":3,"strokeCap":"square"},
  "encoding":{"x":{"datum":-0.1643},"y":{"datum":0.0916},"y2":{"datum":-0.4972}}},
 {"data":{"name":"panels"},"transform":[{"filter":"datum.panel==='a'"}],"mark":{"type":"rule","color":"black","strokeWidth":3,"strokeCap":"square"},
  "encoding":{"x":{"datum":-0.1643},"x2":{"datum":0.8083},"y":{"datum":0.0916}}}
]},
{"layer":[
 {"data":{"name":"ptsB"},"mark":{"type":"point","filled":true,"opacity":0.5,"size":110},
  "encoding":{
   "x":{"field":"pc1","type":"quantitative","scale":{"domain":[-0.1623,0.0899],"range":[710.7,1155],"nice":false,"zero":false},"axis":{"orient":"bottom","offset":-617.7,"values":[-0.15,-0.1,-0.05,0,0.05],"format":".2f","labelExpr":"replace(datum.label,'\u2212','-')","title":"PC1 (75.14%)","titlePadding":1}},
   "y":{"field":"pc2","type":"quantitative","scale":{"domain":[-0.079,0.1236],"range":[383.3,26.7],"nice":false,"zero":false},"axis":{"orient":"left","offset":-710.7,"values":[0.12,0.08,0.04,0,-0.04],"format":".2f","labelExpr":"replace(datum.label,'\u2212','-')","title":"PC2 (24.34%)"}},
   "color":{"field":"lake","type":"nominal","scale":{"domain":["Fje","Skv","Skg","Tar","Lim","hdr"],"range":["#FF0000","#8B0000","#1E90FF","#0000FF","#191970","#000000"]},"legend":null},
   "shape":{"field":"eco","type":"nominal","scale":{"domain":["N","D","P"],"range":["circle","triangle-up","diamond"]},"legend":null}}},
 {"data":{"name":"centB"},"mark":{"type":"line","strokeWidth":6},
  "encoding":{"x":{"field":"pc1","type":"quantitative"},"y":{"field":"pc2","type":"quantitative"},"color":{"field":"lake","type":"nominal","scale":{"domain":["Fje","Skv","Skg","Tar","Lim","hdr"],"range":["#FF0000","#8B0000","#1E90FF","#0000FF","#191970","#000000"]},"legend":null}}},
 {"data":{"name":"centB"},"transform":[{"filter":"datum.eco==='N'"}],"mark":{"type":"point","filled":true,"opacity":1,"size":360},
  "encoding":{"x":{"field":"pc1","type":"quantitative"},"y":{"field":"pc2","type":"quantitative"},"color":{"field":"lake","type":"nominal","scale":{"domain":["Fje","Skv","Skg","Tar","Lim","hdr"],"range":["#FF0000","#8B0000","#1E90FF","#0000FF","#191970","#000000"]},"legend":null},"shape":{"field":"eco","type":"nominal","scale":{"domain":["N","D","P"],"range":["circle","triangle-up","diamond"]},"legend":null}}},
 {"data":{"name":"centB"},"transform":[{"filter":"datum.eco==='P'"}],"mark":{"type":"point","filled":true,"opacity":1,"size":580},
  "encoding":{"x":{"field":"pc1","type":"quantitative"},"y":{"field":"pc2","type":"quantitative"},"color":{"field":"lake","type":"nominal","scale":{"domain":["Fje","Skv","Skg","Tar","Lim","hdr"],"range":["#FF0000","#8B0000","#1E90FF","#0000FF","#191970","#000000"]},"legend":null},"shape":{"field":"eco","type":"nominal","scale":{"domain":["N","D","P"],"range":["circle","triangle-up","diamond"]},"legend":null}}},
 {"data":{"name":"panels"},"transform":[{"filter":"datum.panel==='b'"}],"mark":{"type":"text","align":"left","baseline":"middle","font":"Lato","fontWeight":"bold","fontSize":32},
  "encoding":{"x":{"datum":-0.1523},"y":{"datum":0.1142},"text":{"field":"label"}}}
]},
{"layer":[
 {"data":{"name":"ptsC"},"mark":{"type":"point","filled":true,"opacity":0.5,"size":110},
  "encoding":{
   "x":{"field":"pc1","type":"quantitative","scale":{"domain":[-0.1062,0.0777],"range":[1324,1769],"nice":false,"zero":false},"axis":{"orient":"bottom","offset":-628.7,"values":[-0.1,-0.05,0,0.05],"format":".2f","labelExpr":"replace(datum.label,'\u2212','-')","title":"PC1 (72.87%)","titlePadding":1}},
   "y":{"field":"pc2","type":"quantitative","scale":{"domain":[-0.1185,0.088],"range":[372.3,18.3],"nice":false,"zero":false},"axis":{"orient":"left","offset":-1324,"values":[0.05,0,-0.05,-0.1],"format":".2f","labelExpr":"replace(datum.label,'\u2212','-')","title":"PC2 (25.83%)"}},
   "color":{"field":"lake","type":"nominal","scale":{"domain":["Fje","Skv","Skg","Tar","Lim","hdr"],"range":["#FF0000","#8B0000","#1E90FF","#0000FF","#191970","#000000"]},"legend":null},
   "shape":{"field":"eco","type":"nominal","scale":{"domain":["N","D","P"],"range":["circle","triangle-up","diamond"]},"legend":null}}},
 {"data":{"name":"centC"},"mark":{"type":"line","strokeWidth":6},
  "encoding":{"x":{"field":"pc1","type":"quantitative"},"y":{"field":"pc2","type":"quantitative"},"color":{"field":"lake","type":"nominal","scale":{"domain":["Fje","Skv","Skg","Tar","Lim","hdr"],"range":["#FF0000","#8B0000","#1E90FF","#0000FF","#191970","#000000"]},"legend":null}}},
 {"data":{"name":"centC"},"transform":[{"filter":"datum.eco==='P'"}],"mark":{"type":"point","filled":true,"opacity":1,"size":580},
  "encoding":{"x":{"field":"pc1","type":"quantitative"},"y":{"field":"pc2","type":"quantitative"},"color":{"field":"lake","type":"nominal","scale":{"domain":["Fje","Skv","Skg","Tar","Lim","hdr"],"range":["#FF0000","#8B0000","#1E90FF","#0000FF","#191970","#000000"]},"legend":null},"shape":{"field":"eco","type":"nominal","scale":{"domain":["N","D","P"],"range":["circle","triangle-up","diamond"]},"legend":null}}},
 {"data":{"name":"centC"},"transform":[{"filter":"datum.eco==='D'"}],"mark":{"type":"point","filled":true,"opacity":1,"size":700},
  "encoding":{"x":{"field":"pc1","type":"quantitative"},"y":{"field":"pc2","type":"quantitative"},"color":{"field":"lake","type":"nominal","scale":{"domain":["Fje","Skv","Skg","Tar","Lim","hdr"],"range":["#FF0000","#8B0000","#1E90FF","#0000FF","#191970","#000000"]},"legend":null},"shape":{"field":"eco","type":"nominal","scale":{"domain":["N","D","P"],"range":["circle","triangle-up","diamond"]},"legend":null}}},
 {"data":{"name":"panels"},"transform":[{"filter":"datum.panel==='c'"}],"mark":{"type":"text","align":"left","baseline":"middle","font":"Lato","fontWeight":"bold","fontSize":32},
  "encoding":{"x":{"datum":-0.0962},"y":{"datum":0.072},"text":{"field":"label"}}},
 {"data":{"name":"panels"},"transform":[{"filter":"datum.panel==='c'"}],"mark":{"type":"rule","color":"black","strokeWidth":2.5},
  "encoding":{"x":{"datum":-0.1579},"y":{"datum":0.0986},"y2":{"datum":-0.1512}}},
 {"data":{"name":"panels"},"transform":[{"filter":"datum.panel==='c'"}],"mark":{"type":"rule","color":"black","strokeWidth":3,"strokeCap":"square"},
  "encoding":{"x":{"datum":0.0806},"y":{"datum":0.0986},"y2":{"datum":-0.482}}}
]},
{"layer":[
 {"data":{"name":"tables"},"transform":[{"filter":"datum.panel==='a'"},{"fold":["name","length"],"as":["col","txt"]},{"filter":"datum.col==='name'"}],
  "mark":{"type":"text","align":"left","baseline":"middle","font":"Lato","fontSize":31},
  "encoding":{"x":{"field":"col","type":"nominal","scale":{"type":"point","domain":["name","length"],"range":[16.5,358],"padding":0},"axis":null},
   "y":{"field":"lake","type":"nominal","scale":{"type":"point","domain":["hdr","Skv","Fje","Skg","Lim","Tar"],"range":[471,676],"padding":0},"axis":null},
   "text":{"field":"txt"},
   "color":{"field":"lake","type":"nominal","scale":{"domain":["Fje","Skv","Skg","Tar","Lim","hdr"],"range":["#FF0000","#8B0000","#1E90FF","#0000FF","#191970","#000000"]},"legend":null}}},
 {"data":{"name":"tables"},"transform":[{"filter":"datum.panel==='a'"},{"fold":["name","length"],"as":["col","txt"]},{"filter":"datum.col==='length'"}],
  "mark":{"type":"text","align":"center","baseline":"middle","font":"Lato","fontSize":31,"color":"black"},
  "encoding":{"x":{"field":"col","type":"nominal"},"y":{"field":"lake","type":"nominal"},"text":{"field":"txt"}}},
 {"data":{"name":"brackets"},"transform":[{"filter":"datum.panel==='a'"}],
  "mark":{"type":"rule","color":"#4472C4","strokeWidth":4.5,"strokeCap":"square","xOffset":54,"yOffset":-20.5,"y2Offset":19.8},
  "encoding":{"x":{"datum":"length","type":"nominal"},"y":{"field":"top","type":"nominal"},"y2":{"field":"bottom"}}},
 {"data":{"name":"brackets"},"transform":[{"filter":"datum.panel==='a'"}],
  "mark":{"type":"rule","color":"#4472C4","strokeWidth":4.5,"strokeCap":"square","xOffset":25.5,"x2Offset":54,"yOffset":-20.5},
  "encoding":{"x":{"datum":"length","type":"nominal"},"x2":{"datum":"length"},"y":{"field":"top","type":"nominal"}}},
 {"data":{"name":"brackets"},"transform":[{"filter":"datum.panel==='a'"}],
  "mark":{"type":"rule","color":"#4472C4","strokeWidth":4.5,"strokeCap":"square","xOffset":25.5,"x2Offset":54,"yOffset":19.8},
  "encoding":{"x":{"datum":"length","type":"nominal"},"x2":{"datum":"length"},"y":{"field":"bottom","type":"nominal"}}}
]},
{"layer":[
 {"data":{"name":"tables"},"transform":[{"filter":"datum.panel==='b'"},{"fold":["name","length"],"as":["col","txt"]},{"filter":"datum.col==='name'"}],
  "mark":{"type":"text","align":"left","baseline":"middle","font":"Lato","fontSize":31},
  "encoding":{"x":{"field":"col","type":"nominal","scale":{"type":"point","domain":["name","length"],"range":[586,904],"padding":0},"axis":null},
   "y":{"field":"lake","type":"nominal","scale":{"type":"point","domain":["hdr","Tar","Skg","Lim"],"range":[493.6,617],"padding":0},"axis":null},
   "text":{"field":"txt"},
   "color":{"field":"lake","type":"nominal","scale":{"domain":["Fje","Skv","Skg","Tar","Lim","hdr"],"range":["#FF0000","#8B0000","#1E90FF","#0000FF","#191970","#000000"]},"legend":null}}},
 {"data":{"name":"tables"},"transform":[{"filter":"datum.panel==='b'"},{"fold":["name","length"],"as":["col","txt"]},{"filter":"datum.col==='length'"}],
  "mark":{"type":"text","align":"center","baseline":"middle","font":"Lato","fontSize":31,"color":"black"},
  "encoding":{"x":{"field":"col","type":"nominal"},"y":{"field":"lake","type":"nominal"},"text":{"field":"txt"}}},
 {"data":{"name":"brackets"},"transform":[{"filter":"datum.panel==='b'"}],
  "mark":{"type":"rule","color":"#4472C4","strokeWidth":4.5,"strokeCap":"square","xOffset":60.4,"yOffset":-13.7,"y2Offset":12.6},
  "encoding":{"x":{"datum":"length","type":"nominal"},"y":{"field":"top","type":"nominal"},"y2":{"field":"bottom"}}},
 {"data":{"name":"brackets"},"transform":[{"filter":"datum.panel==='b'"}],
  "mark":{"type":"rule","color":"#4472C4","strokeWidth":4.5,"strokeCap":"square","xOffset":30.7,"x2Offset":60.4,"yOffset":-13.7},
  "encoding":{"x":{"datum":"length","type":"nominal"},"x2":{"datum":"length"},"y":{"field":"top","type":"nominal"}}},
 {"data":{"name":"brackets"},"transform":[{"filter":"datum.panel==='b'"}],
  "mark":{"type":"rule","color":"#4472C4","strokeWidth":4.5,"strokeCap":"square","xOffset":30.7,"x2Offset":60.4,"yOffset":12.6},
  "encoding":{"x":{"datum":"length","type":"nominal"},"x2":{"datum":"length"},"y":{"field":"bottom","type":"nominal"}}}
]},
{"layer":[
 {"data":{"name":"tables"},"transform":[{"filter":"datum.panel==='c'"},{"fold":["name","length"],"as":["col","txt"]},{"filter":"datum.col==='name'"}],
  "mark":{"type":"text","align":"left","baseline":"middle","font":"Lato","fontSize":31},
  "encoding":{"x":{"field":"col","type":"nominal","scale":{"type":"point","domain":["name","length"],"range":[1336,1656],"padding":0},"axis":null},
   "y":{"field":"lake","type":"nominal","scale":{"type":"point","domain":["hdr","Skg","Lim","Tar"],"range":[493.6,617],"padding":0},"axis":null},
   "text":{"field":"txt"},
   "color":{"field":"lake","type":"nominal","scale":{"domain":["Fje","Skv","Skg","Tar","Lim","hdr"],"range":["#FF0000","#8B0000","#1E90FF","#0000FF","#191970","#000000"]},"legend":null}}},
 {"data":{"name":"tables"},"transform":[{"filter":"datum.panel==='c'"},{"fold":["name","length"],"as":["col","txt"]},{"filter":"datum.col==='length'"}],
  "mark":{"type":"text","align":"center","baseline":"middle","font":"Lato","fontSize":31,"color":"black"},
  "encoding":{"x":{"field":"col","type":"nominal"},"y":{"field":"lake","type":"nominal"},"text":{"field":"txt"}}},
 {"data":{"name":"brackets"},"transform":[{"filter":"datum.panel==='c'"}],
  "mark":{"type":"rule","color":"#4472C4","strokeWidth":4.5,"strokeCap":"square","xOffset":59.7,"yOffset":-13.7,"y2Offset":12.6},
  "encoding":{"x":{"datum":"length","type":"nominal"},"y":{"field":"top","type":"nominal"},"y2":{"field":"bottom"}}},
 {"data":{"name":"brackets"},"transform":[{"filter":"datum.panel==='c'"}],
  "mark":{"type":"rule","color":"#4472C4","strokeWidth":4.5,"strokeCap":"square","xOffset":31,"x2Offset":59.7,"yOffset":-13.7},
  "encoding":{"x":{"datum":"length","type":"nominal"},"x2":{"datum":"length"},"y":{"field":"top","type":"nominal"}}},
 {"data":{"name":"brackets"},"transform":[{"filter":"datum.panel==='c'"}],
  "mark":{"type":"rule","color":"#4472C4","strokeWidth":4.5,"strokeCap":"square","xOffset":31,"x2Offset":59.7,"yOffset":12.6},
  "encoding":{"x":{"datum":"length","type":"nominal"},"x2":{"datum":"length"},"y":{"field":"bottom","type":"nominal"}}}
]},
{"data":{"name":"theta"},"transform":[{"filter":"datum.panel==='a'"}],
 "encoding":{"x":{"field":"panel","type":"nominal","scale":{"type":"point","domain":["a"],"range":[31,31],"padding":0},"axis":null},
  "y":{"field":"pair","type":"nominal","scale":{"type":"point","domain":["Fje-Lim","Fje-Tar","Skg-Skv","Skg-Lim"],"range":[752,887],"padding":0},"axis":null}},
 "layer":[
  {"mark":{"type":"text","text":"θ","align":"left","baseline":"middle","font":"Lato","fontSize":34}},
  {"mark":{"type":"text","align":"left","baseline":"middle","font":"Lato","fontWeight":"bold","fontSize":26,"dx":18.5,"dy":15},"encoding":{"text":{"field":"first"},"color":{"field":"first","type":"nominal","scale":{"domain":["Fje","Skv","Skg","Tar","Lim","hdr"],"range":["#FF0000","#8B0000","#1E90FF","#0000FF","#191970","#000000"]},"legend":null}}},
  {"transform":[{"filter":"datum.first==='Fje'"}],"mark":{"type":"text","align":"left","baseline":"middle","font":"Lato","fontWeight":"bold","fontSize":26,"dx":54.5,"dy":15},"encoding":{"text":{"field":"rest"},"color":{"field":"second","type":"nominal","scale":{"domain":["Fje","Skv","Skg","Tar","Lim","hdr"],"range":["#FF0000","#8B0000","#1E90FF","#0000FF","#191970","#000000"]},"legend":null}}},
  {"transform":[{"filter":"datum.first==='Skg'"}],"mark":{"type":"text","align":"left","baseline":"middle","font":"Lato","fontWeight":"bold","fontSize":26,"dx":60.5,"dy":15},"encoding":{"text":{"field":"rest"},"color":{"field":"second","type":"nominal","scale":{"domain":["Fje","Skv","Skg","Tar","Lim","hdr"],"range":["#FF0000","#8B0000","#1E90FF","#0000FF","#191970","#000000"]},"legend":null}}},
  {"transform":[{"filter":"datum.first==='Fje'"}],"mark":{"type":"text","text":"= 0","align":"left","baseline":"middle","font":"Lato","fontSize":32,"dx":106,"dy":-2}},
  {"transform":[{"filter":"datum.first==='Skg'"}],"mark":{"type":"text","text":"= 0","align":"left","baseline":"middle","font":"Lato","fontSize":32,"dx":112,"dy":-2}}
 ]},
{"data":{"name":"theta"},"transform":[{"filter":"datum.panel==='b'"}],
 "encoding":{"x":{"field":"panel","type":"nominal","scale":{"type":"point","domain":["b"],"range":[629,629],"padding":0},"axis":null},
  "y":{"field":"pair","type":"nominal","scale":{"type":"point","domain":["Skg-Lim"],"range":[715,715],"padding":0},"axis":null}},
 "layer":[
  {"mark":{"type":"text","text":"θ","align":"left","baseline":"middle","font":"Lato","fontSize":34}},
  {"mark":{"type":"text","align":"left","baseline":"middle","font":"Lato","fontWeight":"bold","fontSize":26,"dx":19,"dy":15},"encoding":{"text":{"field":"first"},"color":{"field":"first","type":"nominal","scale":{"domain":["Fje","Skv","Skg","Tar","Lim","hdr"],"range":["#FF0000","#8B0000","#1E90FF","#0000FF","#191970","#000000"]},"legend":null}}},
  {"mark":{"type":"text","align":"left","baseline":"middle","font":"Lato","fontWeight":"bold","fontSize":26,"dx":61,"dy":15},"encoding":{"text":{"field":"rest"},"color":{"field":"second","type":"nominal","scale":{"domain":["Fje","Skv","Skg","Tar","Lim","hdr"],"range":["#FF0000","#8B0000","#1E90FF","#0000FF","#191970","#000000"]},"legend":null}}},
  {"mark":{"type":"text","text":"= 0","align":"left","baseline":"middle","font":"Lato","fontSize":32,"dx":113,"dy":-2}}
 ]},
{"data":{"name":"theta"},"transform":[{"filter":"datum.panel==='c'"}],
 "encoding":{"x":{"field":"panel","type":"nominal","scale":{"type":"point","domain":["c"],"range":[1402.5,1402.5],"padding":0},"axis":null},
  "y":{"field":"pair","type":"nominal","scale":{"type":"point","domain":["Skg-Lim","Skg-Tar"],"range":[715,759],"padding":0},"axis":null}},
 "layer":[
  {"mark":{"type":"text","text":"θ","align":"left","baseline":"middle","font":"Lato","fontSize":34}},
  {"mark":{"type":"text","align":"left","baseline":"middle","font":"Lato","fontWeight":"bold","fontSize":26,"dx":18.6,"dy":15},"encoding":{"text":{"field":"first"},"color":{"field":"first","type":"nominal","scale":{"domain":["Fje","Skv","Skg","Tar","Lim","hdr"],"range":["#FF0000","#8B0000","#1E90FF","#0000FF","#191970","#000000"]},"legend":null}}},
  {"mark":{"type":"text","align":"left","baseline":"middle","font":"Lato","fontWeight":"bold","fontSize":26,"dx":60.6,"dy":15},"encoding":{"text":{"field":"rest"},"color":{"field":"second","type":"nominal","scale":{"domain":["Fje","Skv","Skg","Tar","Lim","hdr"],"range":["#FF0000","#8B0000","#1E90FF","#0000FF","#191970","#000000"]},"legend":null}}},
  {"mark":{"type":"text","text":"= 0","align":"left","baseline":"middle","font":"Lato","fontSize":32,"dx":112,"dy":-2}}
 ]},
{"data":{"name":"legend"},
 "layer":[
  {"transform":[{"filter":"datum.item==='Ecotype'"}],"mark":{"type":"rule","color":"black","strokeWidth":2.5,"strokeCap":"square","xOffset":-19,"x2Offset":202,"yOffset":-25.3},
   "encoding":{"x":{"datum":"title","type":"nominal","scale":{"type":"point","domain":["title","sym","text"],"range":[1045,1125],"padding":0},"axis":null},"x2":{"datum":"text"},
    "y":{"datum":"Ecotype","type":"nominal","scale":{"type":"point","domain":["Ecotype","Normal","Dwarf","Piscivorous","Lake","Fjellfrosvatn","Skovatn","Skogsfjordvatn","Tarnvatn","Limingen"],"range":[456,971],"padding":0},"axis":null}}},
  {"transform":[{"filter":"datum.item==='Ecotype'"}],"mark":{"type":"rule","color":"black","strokeWidth":2.5,"xOffset":-19,"yOffset":-25.3,"y2Offset":60},
   "encoding":{"x":{"datum":"title","type":"nominal"},"y":{"datum":"Ecotype","type":"nominal"},"y2":{"datum":"Limingen"}}},
  {"transform":[{"filter":"datum.item==='Ecotype'"}],"mark":{"type":"rule","color":"black","strokeWidth":2.5,"xOffset":202,"yOffset":-25.3,"y2Offset":60},
   "encoding":{"x":{"datum":"text","type":"nominal"},"y":{"datum":"Ecotype","type":"nominal"},"y2":{"datum":"Limingen"}}},
  {"transform":[{"filter":"datum.item==='Ecotype'"}],"mark":{"type":"text","align":"left","baseline":"middle","font":"Liberation Sans","fontSize":35,"dx":8.6},
   "encoding":{"x":{"datum":"title","type":"nominal"},"y":{"field":"item","type":"nominal"},"text":{"field":"item"}}},
  {"transform":[{"filter":"datum.item==='Lake'"}],"mark":{"type":"text","align":"left","baseline":"middle","font":"Liberation Sans","fontSize":35,"dx":0.6,"dy":-4},
   "encoding":{"x":{"datum":"title","type":"nominal"},"y":{"field":"item","type":"nominal"},"text":{"field":"item"}}},
  {"transform":[{"filter":"datum.kind==='eco'"}],"mark":{"type":"point","filled":false,"size":170,"strokeWidth":1.6,"color":"#222222","opacity":1,"xOffset":-3,"yOffset":5.5},
   "encoding":{"x":{"datum":"sym","type":"nominal"},"y":{"field":"item","type":"nominal"},"shape":{"field":"eco","type":"nominal","scale":{"domain":["N","D","P"],"range":["circle","triangle-up","diamond"]},"legend":null}}},
  {"transform":[{"filter":"datum.kind==='eco'"}],"mark":{"type":"text","align":"left","baseline":"middle","font":"Liberation Sans","fontSize":28,"dx":4,"dy":5.5},
   "encoding":{"x":{"datum":"text","type":"nominal"},"y":{"field":"item","type":"nominal"},"text":{"field":"item"}}},
  {"transform":[{"filter":"datum.kind==='lake'"}],"mark":{"type":"rule","strokeWidth":3.5,"xOffset":-31.4,"x2Offset":11},
   "encoding":{"x":{"datum":"sym","type":"nominal"},"x2":{"datum":"sym"},"y":{"field":"item","type":"nominal"},"color":{"field":"lake","type":"nominal","scale":{"domain":["Fje","Skv","Skg","Tar","Lim","hdr"],"range":["#FF0000","#8B0000","#1E90FF","#0000FF","#191970","#000000"]},"legend":null}}},
  {"transform":[{"filter":"datum.kind==='lake'"}],"mark":{"type":"point","filled":true,"size":120,"opacity":1,"xOffset":-10},
   "encoding":{"x":{"datum":"sym","type":"nominal"},"y":{"field":"item","type":"nominal"},"color":{"field":"lake","type":"nominal","scale":{"domain":["Fje","Skv","Skg","Tar","Lim","hdr"],"range":["#FF0000","#8B0000","#1E90FF","#0000FF","#191970","#000000"]},"legend":null},"shape":{"value":"circle"}}},
  {"transform":[{"filter":"datum.kind==='lake'"}],"mark":{"type":"text","align":"left","baseline":"middle","font":"Liberation Sans","fontSize":28,"dx":-4},
   "encoding":{"x":{"datum":"text","type":"nominal"},"y":{"field":"item","type":"nominal"},"text":{"field":"item"}}}
 ]}
]
}
